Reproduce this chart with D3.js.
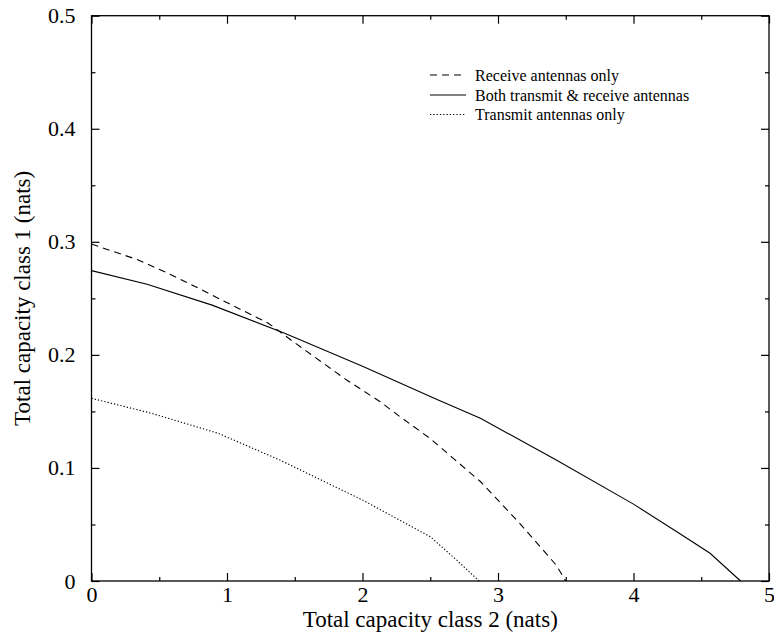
<!DOCTYPE html>
<html><head><meta charset="utf-8">
<script src="https://cdn.jsdelivr.net/npm/d3@7"></script>
<style>body{margin:0;background:#fff}svg{display:block}text{font-family:"Liberation Serif","Tinos","Times New Roman",Times,serif;fill:#000}</style>
</head><body>
<script>
// Data (x = total capacity class 2, y = total capacity class 1)
const receiveX = [0, 0.345, 0.567, 0.788, 1.01, 1.305, 1.489, 1.883, 2.13, 2.277, 2.5, 2.67, 2.87, 3.16, 3.43, 3.5];
const receiveY = [0.298, 0.284, 0.272, 0.259, 0.2456, 0.228, 0.2117, 0.1778, 0.1586, 0.1453, 0.126, 0.1085, 0.088, 0.051, 0.014, 0];
const bothX = [0, 0.41, 0.89, 1.43, 2.0, 2.55, 2.87, 3.43, 4.0, 4.34, 4.565, 4.79];
const bothY = [0.2745, 0.2624, 0.244, 0.219, 0.190, 0.1605, 0.144, 0.107, 0.068, 0.042, 0.0245, 0];
const transmitX = [0, 0.444, 0.936, 1.39, 2.0, 2.5, 2.7, 2.86];
const transmitY = [0.1616, 0.1483, 0.1306, 0.107, 0.0716, 0.0392, 0.018, 0];
const seriesNames = ["Receive antennas only", "Both transmit & receive antennas", "Transmit antennas only"];
const xTickValues = [0, 1, 2, 3, 4, 5];
const yTickValues = [0, 0.1, 0.2, 0.3, 0.4, 0.5];
const xTitle = "Total capacity class 2 (nats)";
const yTitle = "Total capacity class 1 (nats)";

const W = 774, H = 644;
const FONT = '"Liberation Serif","Tinos","Times New Roman",Times,serif';
const svg = d3.select("body").append("svg").attr("width", W).attr("height", H);
const x = d3.scaleLinear().domain([0, 5]).range([91.5, 769]);
const y = d3.scaleLinear().domain([0, 0.5]).range([581, 15.7]);

const fmtY = d => d === 0 ? "0" : d3.format(".1f")(d);

// frame
svg.append("rect").attr("x", x(0)).attr("y", y(0.5)).attr("width", x(5) - x(0)).attr("height", y(0) - y(0.5))
  .attr("fill", "none").attr("stroke", "#000").attr("stroke-width", 1.3);

const minorX = d3.range(0, 5.01, 0.5).filter(v => Math.abs(v - Math.round(v)) > 1e-6);
const minorY = d3.range(0, 0.501, 0.05).filter(v => Math.abs(v * 10 - Math.round(v * 10)) > 1e-6);

function styleAxis(g) {
  g.attr("font-family", FONT);
  g.select(".domain").remove();
  g.selectAll("line").attr("stroke", "#000").attr("stroke-width", 1.2);
}

// bottom
svg.append("g").attr("transform", `translate(0,${y(0)})`)
  .call(d3.axisBottom(x).tickValues(xTickValues).tickSizeInner(-8).tickSizeOuter(0).tickPadding(5).tickFormat(d3.format("d")))
  .call(styleAxis).call(g => g.selectAll("text").attr("font-size", 22));
svg.append("g").attr("transform", `translate(0,${y(0)})`)
  .call(d3.axisBottom(x).tickValues(minorX).tickSizeInner(-4).tickSizeOuter(0).tickFormat(""))
  .call(styleAxis);
// top
svg.append("g").attr("transform", `translate(0,${y(0.5)})`)
  .call(d3.axisTop(x).tickValues(xTickValues).tickSizeInner(-8).tickSizeOuter(0).tickFormat(""))
  .call(styleAxis);
svg.append("g").attr("transform", `translate(0,${y(0.5)})`)
  .call(d3.axisTop(x).tickValues(minorX).tickSizeInner(-4).tickSizeOuter(0).tickFormat(""))
  .call(styleAxis);
// left
svg.append("g").attr("transform", `translate(${x(0)},0)`)
  .call(d3.axisLeft(y).tickValues(yTickValues).tickSizeInner(-8).tickSizeOuter(0).tickPadding(16).tickFormat(fmtY))
  .call(styleAxis).call(g => g.selectAll("text").attr("font-size", 22));
svg.append("g").attr("transform", `translate(${x(0)},0)`)
  .call(d3.axisLeft(y).tickValues(minorY).tickSizeInner(-4).tickSizeOuter(0).tickFormat(""))
  .call(styleAxis);
// right
svg.append("g").attr("transform", `translate(${x(5)},0)`)
  .call(d3.axisRight(y).tickValues(yTickValues).tickSizeInner(-8).tickSizeOuter(0).tickFormat(""))
  .call(styleAxis);
svg.append("g").attr("transform", `translate(${x(5)},0)`)
  .call(d3.axisRight(y).tickValues(minorY).tickSizeInner(-4).tickSizeOuter(0).tickFormat(""))
  .call(styleAxis);

// titles
svg.append("text").attr("x", (x(0) + x(5)) / 2).attr("y", 627).attr("text-anchor", "middle")
  .attr("font-family", FONT).attr("font-size", 23).text(xTitle);
svg.append("text").attr("transform", `translate(30,${(y(0) + y(0.5)) / 2}) rotate(-90)`).attr("text-anchor", "middle")
  .attr("font-family", FONT).attr("font-size", 23).text(yTitle);

// curves
const line = d3.line().x(d => x(d[0])).y(d => y(d[1]));
const series = [
  { pts: d3.zip(receiveX, receiveY), dash: "7,5" },
  { pts: d3.zip(bothX, bothY), dash: null },
  { pts: d3.zip(transmitX, transmitY), dash: "1.3,2" }
];
series.forEach(s => {
  svg.append("path").attr("d", line(s.pts)).attr("fill", "none").attr("stroke", "#000").attr("stroke-width", 1.1)
    .attr("stroke-dasharray", s.dash);
});

// legend
const legY = [75, 95, 114.5];
series.forEach((s, i) => {
  svg.append("line").attr("x1", 430).attr("x2", 466).attr("y1", legY[i]).attr("y2", legY[i])
    .attr("stroke", "#000").attr("stroke-width", 1.1).attr("stroke-dasharray", s.dash);
  svg.append("text").attr("x", 475).attr("y", legY[i] + 5.5).attr("font-family", FONT).attr("font-size", 16).text(seriesNames[i]);
});
</script>
</body></html>
